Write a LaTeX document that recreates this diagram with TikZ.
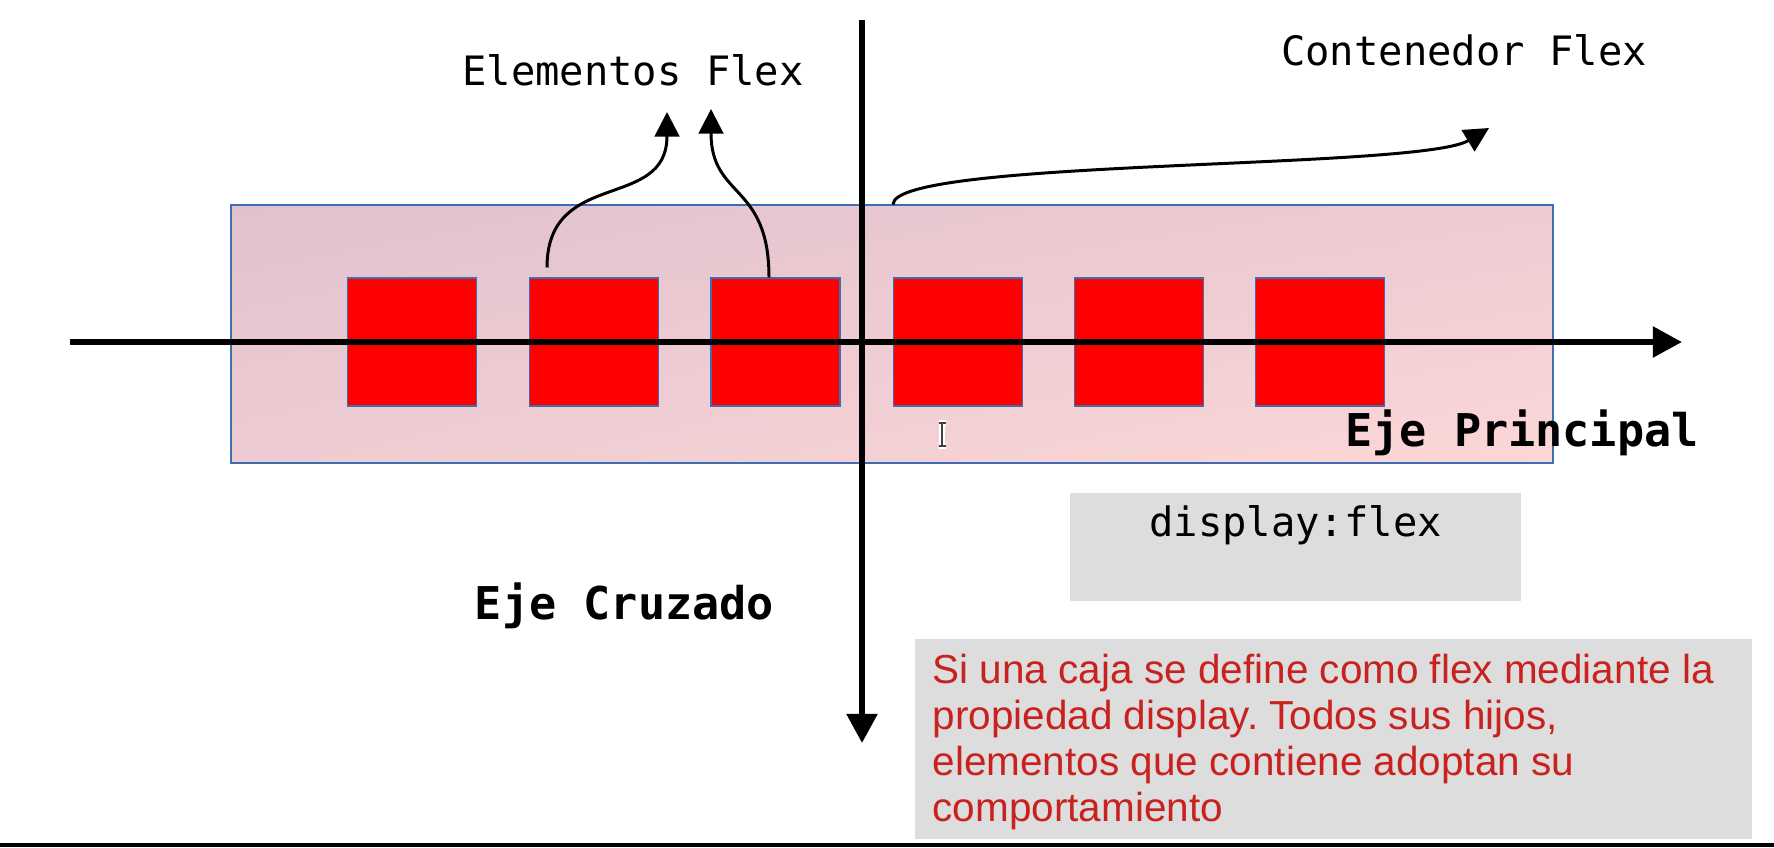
\documentclass[tikz,border=0pt]{standalone}
\usepackage{fontspec}
\setmainfont{Liberation Sans}
\newfontfamily\monofont{DejaVu Sans Mono}
\usetikzlibrary{arrows.meta,calc,shadings}
\frenchspacing
\definecolor{boxred}{HTML}{FF0000}
\definecolor{edgeblue}{HTML}{3F6DB3}
\definecolor{cgray}{HTML}{DDDDDD}
\definecolor{notered}{HTML}{C9211E}
\definecolor{pinkA}{HTML}{E0C2CD}
\definecolor{pinkB}{HTML}{EECBD2}
\definecolor{pinkC}{HTML}{FBD7D7}
\tikzset{
  flexitem/.style={draw=edgeblue, line width=0.3pt, fill=boxred, minimum width=12.9mm, minimum height=12.8mm, inner sep=0pt},
  container/.style={draw=edgeblue, line width=0.3pt, upper left=pinkA, upper right=pinkB, lower left=pinkB, lower right=pinkC, minimum width=132.2mm, minimum height=25.8mm, inner sep=0pt},
  axis/.style={line width=1.7pt, -{Triangle[length=8.3pt,width=8.5pt]}},
  pointer/.style={line width=0.85pt, -{Triangle[length=7pt,width=7pt]}},
  monolabel/.style={font=\monofont\fontsize{11.52pt}{13pt}\selectfont, inner sep=0pt},
  boldlabel/.style={font=\monofont\bfseries\fontsize{12.85pt}{14pt}\selectfont, inner sep=0pt},
  graybox/.style={fill=cgray, inner sep=0pt},
  notetext/.style={text=notered, font=\fontsize{11.52pt}{13.09pt}\selectfont, align=left, inner sep=0pt}
}
\begin{document}
\begin{tikzpicture}[x=0.1mm, y=-0.1mm]
\useasboundingbox (0,0) rectangle (1774,847);
% container
\node[container] (cont) at (892,334) {};
% flex items
\node[flexitem] (s1) at (411.8,342) {};
\node[flexitem] (s2) at (594,342) {};
\node[flexitem] (s3) at (775.5,342) {};
\node[flexitem] (s4) at (958.3,342) {};
\node[flexitem] (s5) at (1139.3,342) {};
\node[flexitem] (s6) at (1320.3,342) {};
% axes
\coordinate (hL) at (70,342);
\coordinate (hR) at (1682,342);
\coordinate (vT) at (862,20);
\coordinate (vB) at (862,743);
\draw[axis] (hL) -- (hR);
\draw[axis] (vT) -- (vB);
% labels
\node[monolabel, anchor=base] (elab) at (633,85) {Elementos Flex};
\node[monolabel, anchor=base] (clab) at (1464,65) {Contenedor Flex};
\node[boldlabel, anchor=base] (plab) at (1522,446) {Eje Principal};
\node[boldlabel, anchor=base] (xlab) at (624.5,619) {Eje Cruzado};
% pointers
\coordinate (t1) at (667,112);
\coordinate (t2) at (711,109);
\coordinate (t3) at (1489,128);
\coordinate (p1) at ($(s2.north)+(-47,-10)$);
\coordinate (p2) at ($(s3.north)+(-6.5,0)$);
\coordinate (p3) at ($(cont.north)+(1,0)$);
\draw[pointer] (p1) .. controls ($(p1)+(0,-100)$) and ($(t1)+(0,100)$) .. (t1);
\draw[pointer] (p2) .. controls ($(p2)+(0,-95)$) and ($(t2)+(0,90)$) .. (t2);
\draw[pointer] (p3) .. controls ($(p3)+(0,-46)$) and ($(t3)+(-69,42)$) .. (t3);
% gray boxes
\node[graybox, minimum width=45.1mm, minimum height=10.8mm] (gb1) at (1295.5,547) {};
\node[monolabel, anchor=base] (dlab) at ($(gb1.north)+(0,44)$) {display:flex};
\node[graybox, minimum width=83.7mm, minimum height=20mm] (gb2) at (1333.5,739) {};
\node[notetext, anchor=base west] (note) at ($(gb2.north west)+(17.7,182.7)$) {Si una caja se define como flex mediante la\\propiedad display. Todos sus hijos,\\elementos que contiene adoptan su\\comportamiento};
% text cursor
\draw[white, line width=1.8pt] (942,423) -- (942,446) (938.5,423) -- (945.5,423) (938.5,446) -- (945.5,446);
\draw[black!75, line width=0.6pt] (942,423) -- (942,446) (938.5,423) -- (945.5,423) (938.5,446) -- (945.5,446);
% bottom bar
\fill[black] (0,842.5) rectangle (1774,847);
\end{tikzpicture}
\end{document}
